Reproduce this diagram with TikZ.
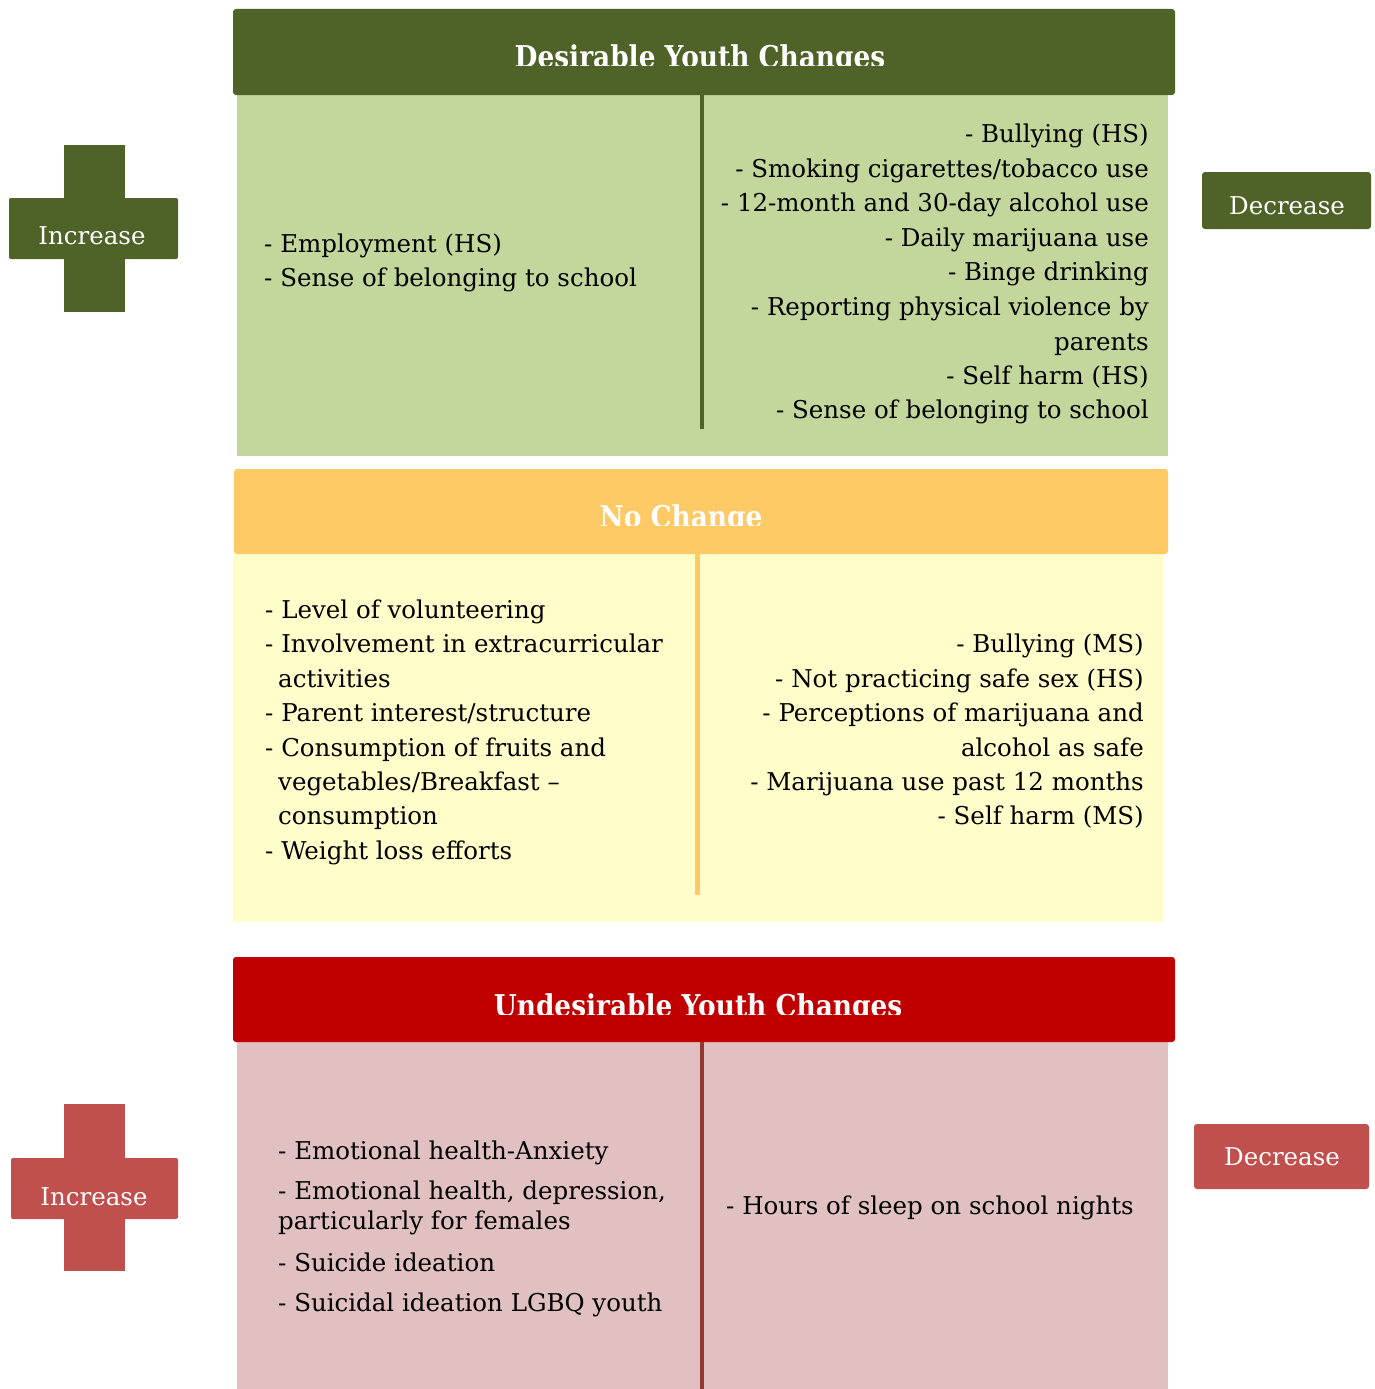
\documentclass[tikz,border=0pt]{standalone}
\usepackage{fontspec}
\setmainfont{DejaVu Serif}
\newfontfamily\headfam[FakeStretch=0.88]{DejaVu Serif}
\definecolor{dkgreen}{HTML}{4F6228}
\definecolor{ltgreen}{HTML}{C3D69B}
\definecolor{orng}{HTML}{FFC966}
\definecolor{ltyellow}{HTML}{FFFDC9}
\definecolor{dkred}{HTML}{C00000}
\definecolor{pink}{HTML}{E1C0C1}
\definecolor{redline}{HTML}{943634}
\definecolor{crossred}{HTML}{C0504D}
\newcommand{\bodyfont}{\fontsize{24.5}{34.5}\selectfont}
\newcommand{\headfont}{\headfam\fontsize{30}{36}\selectfont\bfseries}
\tikzset{
  txt/.style={font=\bodyfont, inner sep=0pt, anchor=base west, text=black},
  rtxt/.style={font=\bodyfont, inner sep=0pt, anchor=base east, text=black},
  head/.style={font=\headfont, inner sep=0pt, anchor=base, text=white},
  btn/.style={font=\bodyfont, inner sep=0pt, anchor=base, text=white},
}
\begin{document}
\begin{tikzpicture}[x=1pt,y=-1pt]
\useasboundingbox (0,0) rectangle (1374,1389);

% ---------- Desirable ----------
\fill[ltgreen] (237,95) rectangle (1168,456);
\fill[dkgreen, rounded corners=3pt] (233,9) rectangle (1175,95);
\fill[dkgreen] (699.5,95) rectangle (703.5,429);
\begin{scope}
\clip (233,9) rectangle (1175,66);
\node[head] (h1) at (700,67) {Desirable Youth Changes};
\end{scope}
\node[txt] (a1) at (264,252) {- Employment (HS)};
\node[txt] (a2) at (264,286) {- Sense of belonging to school};
\node[rtxt] (b1) at (1149,142) {- Bullying (HS)};
\node[rtxt] (b2) at (1149,177) {- Smoking cigarettes/tobacco use};
\node[rtxt] (b3) at (1149,211) {- 12-month and 30-day alcohol use};
\node[rtxt] (b4) at (1149,246) {- Daily marijuana use};
\node[rtxt] (b5) at (1149,280) {- Binge drinking};
\node[rtxt] (b6) at (1149,315) {- Reporting physical violence by};
\node[rtxt] (b7) at (1149,350) {parents};
\node[rtxt] (b8) at (1149,384) {- Self harm (HS)};
\node[rtxt] (b9) at (1149,418) {- Sense of belonging to school};

% green cross
\fill[dkgreen] (64,145) rectangle (125,312);
\fill[dkgreen, rounded corners=2pt] (9,198) rectangle (178,259);
\node[btn] (inc1) at (92,244) {Increase};
% green decrease
\fill[dkgreen, rounded corners=3pt] (1202,172) rectangle (1371,229);
\node[btn] (dec1) at (1287,214) {Decrease};

% ---------- No change ----------
\fill[ltyellow] (233,554) rectangle (1163,922);
\fill[orng, rounded corners=3pt] (234,469) rectangle (1168,554);
\fill[orng] (695,554) rectangle (699.5,895);
\begin{scope}
\clip (234,469) rectangle (1168,525);
\node[head] (h2) at (681,527) {No Change};
\end{scope}
\node[txt] (c1) at (265,618) {- Level of volunteering};
\node[txt] (c2) at (265,652) {- Involvement in extracurricular};
\node[txt] (c3) at (278,687) {activities};
\node[txt] (c4) at (265,721) {- Parent interest/structure};
\node[txt] (c5) at (265,756) {- Consumption of fruits and};
\node[txt] (c6) at (278,790) {vegetables/Breakfast –};
\node[txt] (c7) at (278,824) {consumption};
\node[txt] (c8) at (265,859) {- Weight loss efforts};
\node[rtxt] (d1) at (1144,652) {- Bullying (MS)};
\node[rtxt] (d2) at (1144,687) {- Not practicing safe sex (HS)};
\node[rtxt] (d3) at (1144,721) {- Perceptions of marijuana and};
\node[rtxt] (d4) at (1144,756) {alcohol as safe};
\node[rtxt] (d5) at (1144,790) {- Marijuana use past 12 months};
\node[rtxt] (d6) at (1144,824) {- Self harm (MS)};

% ---------- Undesirable ----------
\fill[pink] (237,1042) rectangle (1168,1389);
\fill[dkred, rounded corners=3pt] (233,957) rectangle (1175,1042);
\fill[redline] (700,1042) rectangle (704,1389);
\begin{scope}
\clip (233,957) rectangle (1175,1014);
\node[head] (h3) at (698,1016) {Undesirable Youth Changes};
\end{scope}
\node[txt] (e1) at (278,1159) {- Emotional health-Anxiety};
\node[txt] (e2) at (278,1199) {- Emotional health, depression,};
\node[txt] (e3) at (278,1229) {particularly for females};
\node[txt] (e4) at (278,1271) {- Suicide ideation};
\node[txt] (e5) at (278,1311) {- Suicidal ideation LGBQ youth};
\node[txt] (f1) at (726,1214) {- Hours of sleep on school nights};

% red cross
\fill[crossred] (64,1104) rectangle (125,1271);
\fill[crossred, rounded corners=2pt] (11,1158) rectangle (178,1219);
\node[btn] (inc2) at (94,1205) {Increase};
% red decrease
\fill[crossred, rounded corners=3pt] (1194,1124) rectangle (1369,1189);
\node[btn] (dec2) at (1282,1165) {Decrease};
\end{tikzpicture}
\end{document}
